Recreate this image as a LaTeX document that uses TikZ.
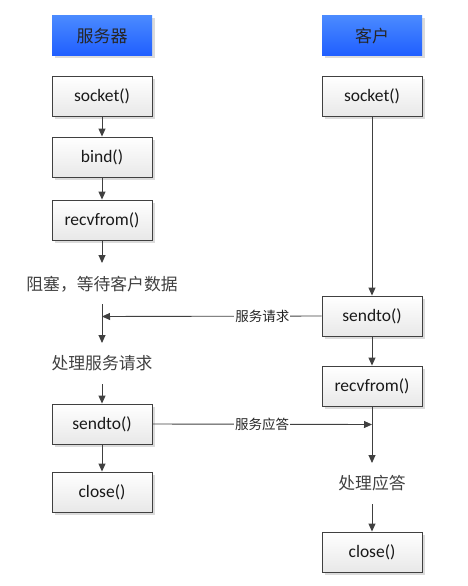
\documentclass[tikz,border=0pt]{standalone}
\usepackage{fontspec}
\setmainfont{Carlito}
\newfontfamily\cjk{Noto Sans CJK SC}
\usetikzlibrary{arrows.meta,shadows}
\definecolor{linec}{HTML}{404040}
\definecolor{bluetop}{HTML}{4A8AFF}
\definecolor{bluebot}{HTML}{1F5EFF}
\tikzset{
  fnbox/.style={draw=linec, line width=0.9pt, minimum width=100pt, minimum height=40pt,
    top color=white, bottom color=black!9, inner sep=0pt,
    font=\fontsize{17.5}{19}\selectfont, text=black!90,
    drop shadow={shadow xshift=2.5pt, shadow yshift=-2.5pt, fill=black!14, opacity=1}},
  headbox/.style={minimum width=100pt, minimum height=40pt, inner sep=0pt,
    top color=bluetop, bottom color=bluebot,
    font=\cjk\fontsize{17}{19}\selectfont, text=black!85,
    drop shadow={shadow xshift=2.5pt, shadow yshift=-2.5pt, fill=black!14, opacity=1}},
  steptext/.style={font=\cjk\fontsize{16.8}{19}\selectfont, text=black!75, inner sep=1pt},
  msglabel/.style={font=\cjk\fontsize{13.5}{15}\selectfont, text=black!85, fill=white, inner sep=1pt},
  conn/.style={draw=linec, line width=0.9pt, -{Triangle[length=8pt,width=7pt]}},
}
\begin{document}
\begin{tikzpicture}[x=1pt,y=-1pt]
\useasboundingbox (0,0) rectangle (467,586);
% headers
\node[headbox] (hs) at (102,36) {服务器};
\node[headbox] (hc) at (372,36) {客户};
% server column
\node[fnbox] (s1) at (102,96) {socket()};
\node[fnbox] (s2) at (102,157) {bind()};
\node[fnbox] (s3) at (102,220) {recvfrom()};
\node[steptext] (t1) at (102,284) {阻塞，等待客户数据};
\node[steptext] (t2) at (102,363) {处理服务请求};
\node[fnbox] (s4) at (102,424) {sendto()};
\node[fnbox] (s5) at (102,492) {close()};
% client column
\node[fnbox] (c1) at (372,96) {socket()};
\node[fnbox] (c2) at (372,316) {sendto()};
\node[fnbox] (c3) at (372,386) {recvfrom()};
\node[steptext] (t3) at (372,483) {处理应答};
\node[fnbox] (c4) at (372,552) {close()};
% coordinates
\coordinate (a1) at (102,263);
\coordinate (a2) at (102,304);
\coordinate (a3) at (102,343);
\coordinate (a4) at (102,384);
\coordinate (rq) at (102,316.5);
\coordinate (b1) at (372,463);
\coordinate (b2) at (372,504);
\coordinate (rs) at (372,424.5);
% server connectors
\draw[conn] (s1) -- (s2);
\draw[conn] (s2) -- (s3);
\draw[conn] (s3) -- (a1);
\draw[conn] (a2) -- (a3);
\draw[conn] (a4) -- (s4);
\draw[conn] (s4) -- (s5);
% client connectors
\draw[conn] (c1) -- (c2);
\draw[conn] (c2) -- (c3);
\draw[conn] (c3) -- (b1);
\draw[conn] (b2) -- (c4);
% messages
\draw[conn] (c2.west) -- node[msglabel, pos=0.27] (l1) {服务请求} (rq);
\draw[conn] (s4.east) -- node[msglabel, pos=0.5] (l2) {服务应答} (rs);
\end{tikzpicture}
\end{document}
